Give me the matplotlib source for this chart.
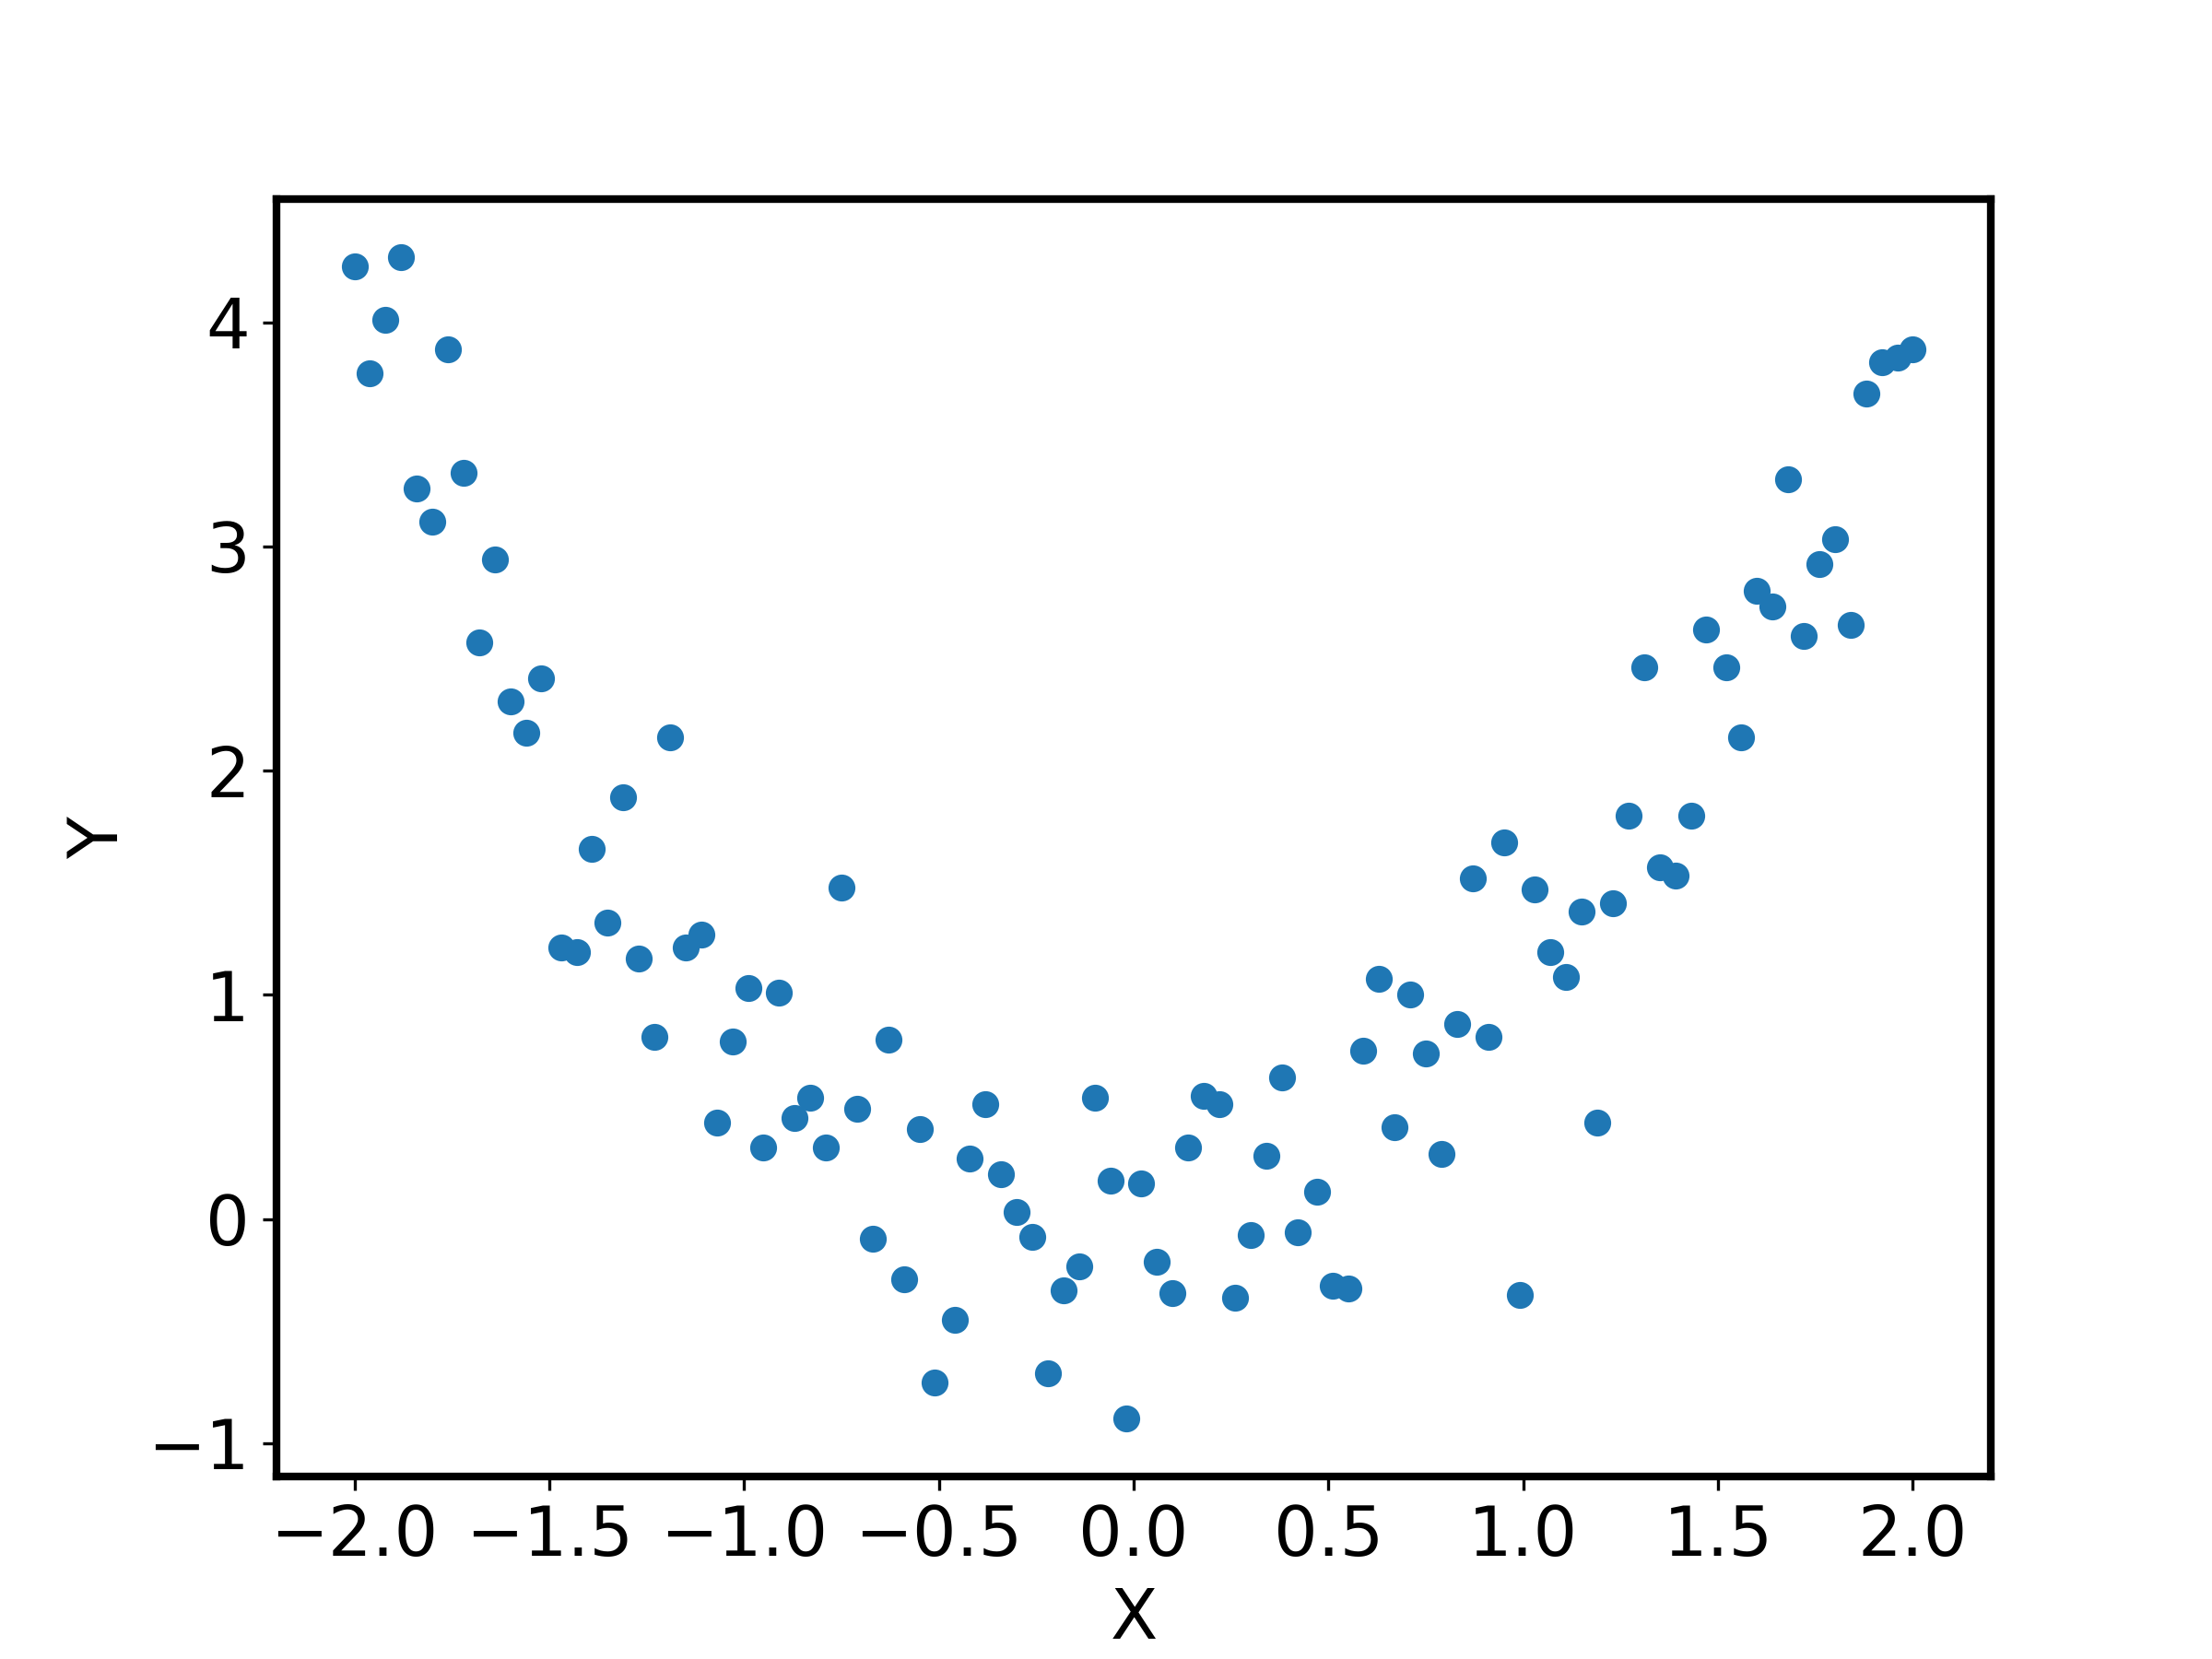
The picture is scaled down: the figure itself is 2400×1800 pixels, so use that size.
import numpy as np
import matplotlib
matplotlib.use("Agg")
import matplotlib.pyplot as plt
from matplotlib.ticker import MultipleLocator

# x grid (evenly spaced from -2 to 2)
x_neg = [-2.00, -1.96, -1.92, -1.88, -1.84, -1.80, -1.76, -1.72, -1.68, -1.64,
         -1.60, -1.56, -1.52, -1.47, -1.43, -1.39, -1.35, -1.31, -1.27, -1.23,
         -1.19, -1.15, -1.11, -1.07, -1.03, -0.99, -0.95, -0.91, -0.87, -0.83,
         -0.79, -0.75, -0.71, -0.67, -0.63, -0.59, -0.55, -0.51, -0.46, -0.42,
         -0.38, -0.34, -0.30, -0.26, -0.22, -0.18, -0.14, -0.10, -0.06, -0.02]
y_neg = [4.25, 3.77, 4.01, 4.29, 3.26, 3.11, 3.88, 3.33, 2.57, 2.94,
         2.31, 2.17, 2.41, 1.21, 1.19, 1.65, 1.32, 1.88, 1.16, 0.81,
         2.15, 1.21, 1.27, 0.43, 0.79, 1.03, 0.32, 1.01, 0.45, 0.54,
         0.32, 1.48, 0.49, -0.09, 0.80, -0.27, 0.40, -0.73, -0.45, 0.27,
         0.51, 0.20, 0.03, -0.08, -0.69, -0.32, -0.21, 0.54, 0.17, -0.89]

x_pos = [0.02, 0.06, 0.10, 0.14, 0.18, 0.22, 0.26, 0.30, 0.34, 0.38,
         0.42, 0.47, 0.51, 0.55, 0.59, 0.63, 0.67, 0.71, 0.75, 0.79,
         0.83, 0.87, 0.91, 0.95, 0.99, 1.03, 1.07, 1.11, 1.15, 1.19,
         1.23, 1.27, 1.31, 1.35, 1.39, 1.43, 1.47, 1.52, 1.56, 1.60,
         1.64, 1.68, 1.72, 1.76, 1.80, 1.84, 1.88, 1.92, 1.96, 2.00]
y_pos = [0.16, -0.19, -0.33, 0.32, 0.55, 0.51, -0.35, -0.07, 0.28, 0.63,
         -0.06, 0.12, -0.30, -0.31, 0.75, 1.07, 0.41, 1.00, 0.74, 0.29,
         0.87, 1.52, 0.81, 1.68, -0.34, 1.47, 1.19, 1.08, 1.37, 0.43,
         1.41, 1.80, 2.46, 1.57, 1.53, 1.80, 2.63, 2.46, 2.15, 2.80,
         2.73, 3.30, 2.60, 2.92, 3.03, 2.65, 3.68, 3.82, 3.84, 3.88]

X = x_neg + x_pos
Y = y_neg + y_pos

plt.rcParams['font.size'] = 18

fig, ax = plt.subplots(figsize=(8, 6), dpi=300)
ax.scatter(X, Y)
ax.xaxis.set_major_locator(MultipleLocator(0.5))
ax.set_xlabel("X")
ax.set_ylabel("Y")
for s in ax.spines.values():
    s.set_linewidth(2)

fig.savefig("out.png", dpi=300)
